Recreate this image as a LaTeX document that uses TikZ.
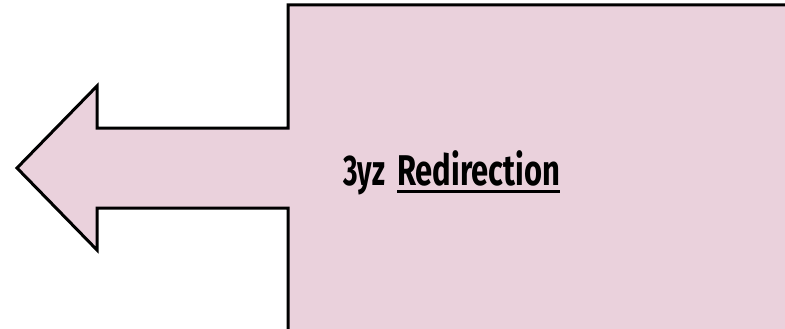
\documentclass[tikz,border=0pt]{standalone}
\usepackage{fontspec}
\setmainfont{Fira Sans}
\definecolor{pinkfill}{RGB}{234,209,220}
\tikzset{
  shapeline/.style={draw=black, line width=3pt, fill=pinkfill, line join=miter},
  lbl/.style={inner sep=0pt, outer sep=0pt, anchor=base west, font=\fontsize{43}{50}\selectfont\bfseries},
}
\begin{document}
\begin{tikzpicture}[x=1pt,y=-1pt]
\useasboundingbox (0,0) rectangle (785,329);
\begin{scope}
\clip (0,0) rectangle (785,329);
\draw[shapeline] (288,5) -- (800,5) -- (800,340) -- (288,340) -- (288,208) -- (97,208) -- (97,250) -- (17,168) -- (97,86) -- (97,128) -- (288,128) -- cycle;
\end{scope}
\node[lbl] (num) at (343,185) {\resizebox{42pt}{\height}{3yz}};
\node[lbl] (red) at (397,185) {\resizebox{163pt}{\height}{Redirection}};
\draw[line width=3pt] ([yshift=-6.5pt]red.base west) -- ([yshift=-6.5pt]red.base east);
\end{tikzpicture}
\end{document}
